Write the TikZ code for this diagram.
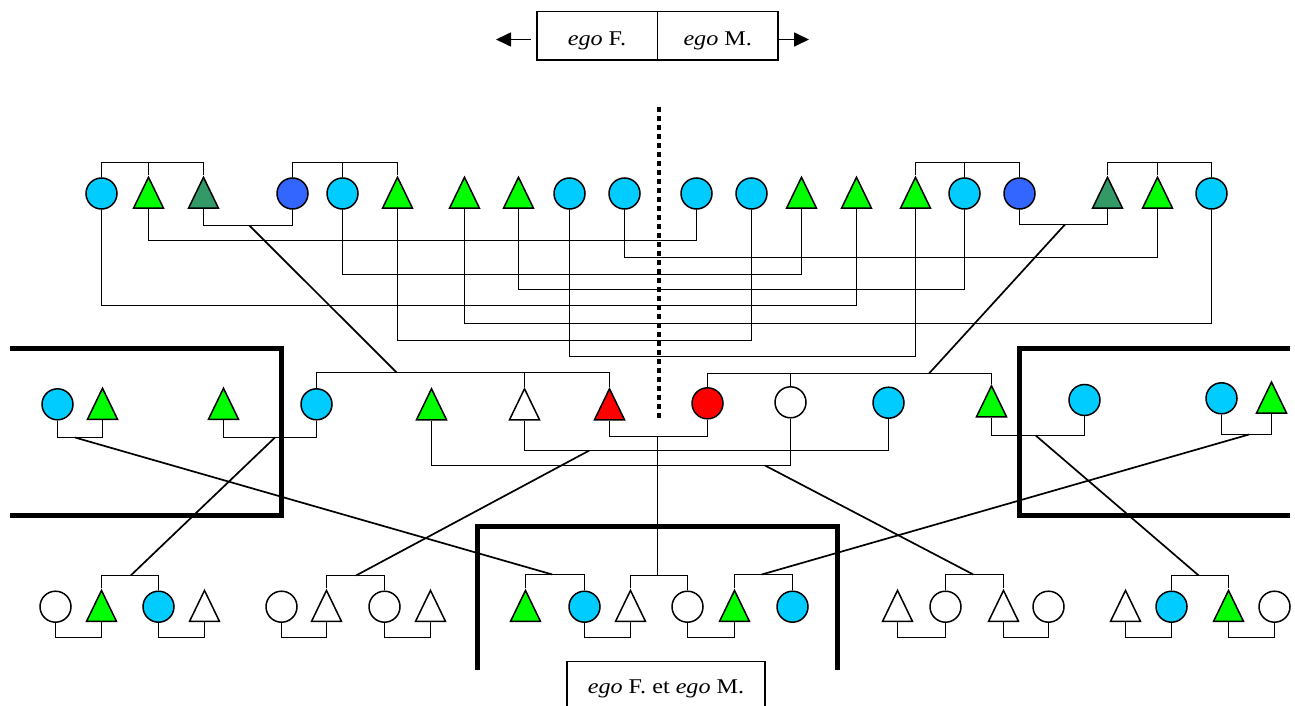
\documentclass[tikz,border=0pt]{standalone}
\usepackage{fontspec}
\setmainfont{Liberation Serif}
\newfontfamily\lblfont[FakeStretch=1.15]{Liberation Serif}
\usetikzlibrary{shapes.geometric,arrows.meta,calc}
\definecolor{kcyan}{HTML}{00CCFF}
\definecolor{kgreen}{HTML}{00FF00}
\definecolor{kdgreen}{HTML}{339966}
\definecolor{kblue}{HTML}{3366FF}
\definecolor{kred}{HTML}{FF0000}
\newcommand\kmarr[3]{\draw[kin] let \p1=(#1.south) in (#1.south) -- (\x1,-#3pt) -| (#2.south);}
\newcommand\ksib[3]{\draw[kin] let \p1=(#1.north) in (#1.north) -- (\x1,-#3pt) -| (#2.north);}
\newcommand\kstem[2]{\draw[kin] let \p1=(#1.north) in (#1.north) -- (\x1,-#2pt);}
\begin{document}
\begin{tikzpicture}[x=1pt,y=-1pt,
  fem/.style={circle, draw, line width=1.5pt, minimum size=31pt, inner sep=0pt},
  mal/.style={isosceles triangle, isosceles triangle stretches, shape border rotate=90,
     draw, line width=1.5pt, minimum width=30pt, minimum height=31pt, inner sep=0pt,
     anchor=south, yshift=-15.5pt},
  kin/.style={line width=1.7pt},
  thickbox/.style={line width=5pt},
  lbl/.style={draw, line width=1.6pt, inner sep=0pt, font=\lblfont\fontsize{21}{25}\selectfont},
  dots/.style={line width=4.5pt, dash pattern=on 5pt off 4pt}]
\useasboundingbox (0,0) rectangle (1295,706);
\fill[white] (0,0) rectangle (1295,706);

% labels
\node[lbl, minimum width=120.6pt, minimum height=48.3pt, text height=21pt, text depth=0.6pt] (egoF) at (597,35.8) {\textit{ego} F.};
\node[lbl, minimum width=120.6pt, minimum height=48.3pt, text height=21pt, text depth=0.6pt] (egoM) at (717.7,35.8) {\textit{ego} M.};
\coordinate (la) at (496,39.5);
\coordinate (ra) at (809,39.5);
\draw[kin,-{Triangle[length=15pt,width=14pt]}] (egoF.west |- la) ++(-5,0) -- (la);
\draw[kin,-{Triangle[length=15pt,width=14pt]}] (egoM.east |- ra) -- (ra);

% dotted axis
\coordinate (dtop) at (659,107);
\coordinate (dbot) at (659,420);
\draw[dots] (dtop) -- (dbot);

% thick boxes
\draw[thickbox] (10,348) -- (281,348) -- (281,515.7) -- (10,515.7);
\draw[thickbox] (1290,348) -- (1019.3,348) -- (1019.3,515.7) -- (1290,515.7);
\draw[thickbox] (477,670) -- (477,526.7) -- (837.7,526.7) -- (837.7,670);

% top row
\node[fem,fill=kcyan] (T1) at (101.5,193.5) {};
\node[mal,fill=kgreen] (T2) at (148.5,193.5) {};
\node[mal,fill=kdgreen] (T3) at (203.5,193.5) {};
\node[fem,fill=kblue] (T4) at (292.5,193.5) {};
\node[fem,fill=kcyan] (T5) at (342.5,193.5) {};
\node[mal,fill=kgreen] (T6) at (397.5,193.5) {};
\node[mal,fill=kgreen] (T7) at (464.5,193.5) {};
\node[mal,fill=kgreen] (T8) at (518.5,193.5) {};
\node[fem,fill=kcyan] (T9) at (569.5,193.5) {};
\node[fem,fill=kcyan] (T10) at (624.5,193.5) {};
\node[fem,fill=kcyan] (T11) at (696.5,193.5) {};
\node[fem,fill=kcyan] (T12) at (751.5,193.5) {};
\node[mal,fill=kgreen] (T13) at (801.5,193.5) {};
\node[mal,fill=kgreen] (T14) at (856.5,193.5) {};
\node[mal,fill=kgreen] (T15) at (915.5,193.5) {};
\node[fem,fill=kcyan] (T16) at (964.5,193.5) {};
\node[fem,fill=kblue] (T17) at (1019.5,193.5) {};
\node[mal,fill=kdgreen] (T18) at (1107.5,193.5) {};
\node[mal,fill=kgreen] (T19) at (1157.5,193.5) {};
\node[fem,fill=kcyan] (T20) at (1211.5,193.5) {};

\ksib{T1}{T3}{162.5}\kstem{T2}{162.5}
\ksib{T4}{T6}{162.5}\kstem{T5}{162.5}
\ksib{T15}{T17}{162.5}\kstem{T16}{162.5}
\ksib{T18}{T20}{162.5}\kstem{T19}{162.5}

\kmarr{T3}{T4}{225.5}
\kmarr{T17}{T18}{224.5}
\kmarr{T2}{T11}{240.5}
\kmarr{T10}{T19}{257.5}
\kmarr{T5}{T13}{274.5}
\kmarr{T8}{T16}{289.5}
\kmarr{T1}{T14}{305.5}
\kmarr{T7}{T20}{323.5}
\kmarr{T6}{T12}{340.5}
\kmarr{T9}{T15}{356.5}

% middle row
\node[fem,fill=kcyan] (M1) at (57.5,404.3) {};
\node[mal,fill=kgreen] (M2) at (102.5,404.5) {};
\node[mal,fill=kgreen] (M3) at (223.5,404.5) {};
\node[fem,fill=kcyan] (M4) at (316.5,404.3) {};
\node[mal,fill=kgreen] (M5) at (431.5,405) {};
\node[mal,fill=white] (M6) at (524.5,405) {};
\node[mal,fill=kred] (M7) at (609.5,405) {};
\node[fem,fill=kred] (M8) at (707.5,403.3) {};
\node[fem,fill=white] (M9) at (790.5,402.3) {};
\node[fem,fill=kcyan] (M10) at (888.5,402.7) {};
\node[mal,fill=kgreen] (M11) at (991.5,402) {};
\node[fem,fill=kcyan] (M12) at (1084.5,400) {};
\node[fem,fill=kcyan] (M13) at (1221.5,398.3) {};
\node[mal,fill=kgreen] (M14) at (1271.5,398.3) {};

\ksib{M4}{M7}{372.5}\kstem{M6}{372.5}
\ksib{M8}{M11}{373.5}\kstem{M9}{373.5}

\kmarr{M7}{M8}{436.5}
\kmarr{M6}{M10}{450.5}
\kmarr{M5}{M9}{465.5}
\kmarr{M1}{M2}{437.5}
\kmarr{M3}{M4}{437.5}
\kmarr{M11}{M12}{435.5}
\kmarr{M13}{M14}{434.5}

% bottom row
\node[fem,fill=white] (B1) at (55.5,606.7) {};
\node[mal,fill=kgreen] (B2) at (101.5,606.7) {};
\node[fem,fill=kcyan] (B3) at (158.5,606.7) {};
\node[mal,fill=white] (B4) at (204.5,606.7) {};
\node[fem,fill=white] (B5) at (281.5,606.7) {};
\node[mal,fill=white] (B6) at (326.5,606.7) {};
\node[fem,fill=white] (B7) at (384.5,606.7) {};
\node[mal,fill=white] (B8) at (430.5,606.7) {};
\node[mal,fill=kgreen] (B9) at (525.5,606.7) {};
\node[fem,fill=kcyan] (B10) at (584.5,606.7) {};
\node[mal,fill=white] (B11) at (630.5,606.7) {};
\node[fem,fill=white] (B12) at (687.5,606.7) {};
\node[mal,fill=kgreen] (B13) at (734.5,606.7) {};
\node[fem,fill=kcyan] (B14) at (792.5,606.7) {};
\node[mal,fill=white] (B15) at (897.5,606.7) {};
\node[fem,fill=white] (B16) at (945.5,606.7) {};
\node[mal,fill=white] (B17) at (1003.5,606.7) {};
\node[fem,fill=white] (B18) at (1048.5,606.7) {};
\node[mal,fill=white] (B19) at (1125.5,606.7) {};
\node[fem,fill=kcyan] (B20) at (1171.5,606.7) {};
\node[mal,fill=kgreen] (B21) at (1228.5,606.7) {};
\node[fem,fill=white] (B22) at (1274.5,606.7) {};

\ksib{B2}{B3}{575.5}
\ksib{B6}{B7}{575.5}
\ksib{B9}{B10}{574.5}
\ksib{B11}{B12}{575.5}
\ksib{B13}{B14}{574.5}
\ksib{B16}{B17}{574.5}
\ksib{B20}{B21}{575.5}

\kmarr{B1}{B2}{637.5}
\kmarr{B3}{B4}{637.5}
\kmarr{B5}{B6}{637.5}
\kmarr{B7}{B8}{637.5}
\kmarr{B10}{B11}{637.5}
\kmarr{B12}{B13}{637.5}
\kmarr{B15}{B16}{637.5}
\kmarr{B17}{B18}{637.5}
\kmarr{B19}{B20}{637.5}
\kmarr{B21}{B22}{637.5}

% descent lines (free ends on bracket lines)
\coordinate (a1) at (249.3,225.5); \coordinate (b1) at (396.7,372.5);
\coordinate (a2) at (1065,224.5);  \coordinate (b2) at (929,373.5);
\coordinate (a3) at (657.5,436.5); \coordinate (b3) at (657.5,575.5);
\coordinate (a4) at (275,437.5);   \coordinate (b4) at (130.7,575.5);
\coordinate (a5) at (75,437.5);    \coordinate (b5) at (552.3,574.5);
\coordinate (a6) at (589.3,450.5); \coordinate (b6) at (356,575.5);
\coordinate (a7) at (765,465.5);   \coordinate (b7) at (973.3,574.5);
\coordinate (a8) at (1249,434.5);  \coordinate (b8) at (761.7,574.5);
\coordinate (a9) at (1035.7,435.5);\coordinate (b9) at (1198.7,575.5);
\foreach \i in {1,...,9} {\draw[kin] (a\i) -- (b\i);}

\node[lbl, minimum width=198.3pt, minimum height=54pt, text height=14pt, text depth=4pt] (egoFM) at (666,688.3) {\textit{ego} F. et \textit{ego} M.};
\end{tikzpicture}
\end{document}
